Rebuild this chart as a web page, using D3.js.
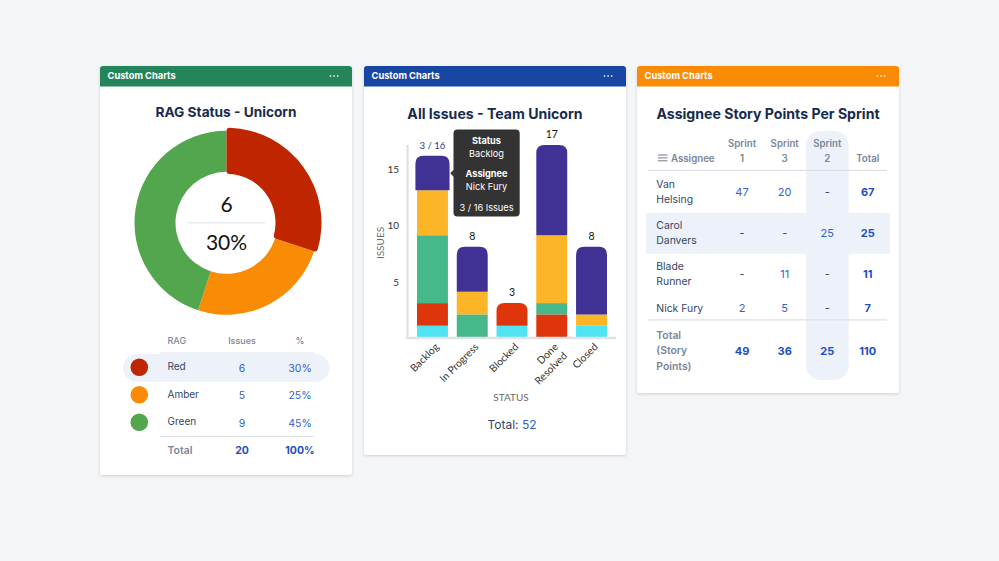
<!DOCTYPE html>
<html lang="en">
<head>
  <meta charset="UTF-8">
  <title>Custom Charts</title>
  <script src="https://d3js.org/d3.v7.min.js"></script>
  <style>
    html, body { margin: 0; background: #f4f5f7; overflow: hidden; }
    svg { display: block; font-family: Inter, sans-serif; }
    .chartfont { font-family: Lato, sans-serif; }
  </style>
</head>
<body>
<svg width="999" height="561"></svg>
<script>
// RAG donut + table
const ragNames = ["Red", "Amber", "Green"];
const ragIssues = [6, 5, 9];
const ragPercent = ["30%", "25%", "45%"];
const ragColors = ["#bf2600", "#fa8c05", "#52a64e"];

// stacked bars, bottom to top
const statuses = ["Backlog", "In Progress", "Blocked", "Done|Resolved", "Closed"];
const statusTotals = [16, 8, 3, 17, 8];
const cyanValues = [1, 0, 1, 0, 1];
const redValues = [2, 0, 2, 2, 0];
const greenValues = [6, 2, 0, 1, 0];
const yellowValues = [4, 2, 0, 6, 1];
const purpleValues = [3, 4, 0, 8, 6];
const yTicks = [5, 10, 15];

// story points table
const sprintHeaders = ["1", "3", "2"];
const assignees = [["Van", "Helsing"], ["Carol", "Danvers"], ["Blade", "Runner"], ["Nick Fury"]];
const pointRows = [
  ["47", "20", "-", "67"],
  ["-", "-", "25", "25"],
  ["-", "11", "-", "11"],
  ["2", "5", "-", "7"]
];
const pointTotals = ["49", "36", "25", "110"];

const navy = "#172b4d", slate = "#344563", grey = "#7a869a", blue = "#2f62d0", blueBold = "#1d4fc0";
const tint = "#ecf1fa", rule = "#dfe1e6";

const svg = d3.select("svg");
const defs = svg.append("defs");
const shadow = defs.append("filter").attr("id", "shadow")
  .attr("x", "-5%").attr("y", "-5%").attr("width", "110%").attr("height", "110%");
shadow.append("feDropShadow").attr("dx", 0).attr("dy", 1).attr("stdDeviation", 1.6)
  .attr("flood-color", "#091e42").attr("flood-opacity", 0.16);

function txt(parent, x, y, s, o = {}) {
  return parent.append("text").attr("x", x).attr("y", y).text(s)
    .attr("text-anchor", o.anchor || "start")
    .attr("font-size", o.size || 11)
    .attr("font-weight", o.weight || 400)
    .attr("fill", o.fill || slate);
}

function card(x, y, w, h, color, title, titleY, titleSize) {
  const g = svg.append("g");
  g.append("rect").attr("x", x).attr("y", y).attr("width", w).attr("height", h)
    .attr("rx", 3).attr("fill", "#fff").attr("filter", "url(#shadow)");
  g.append("path").attr("fill", color)
    .attr("d", `M${x},${y + 20.5}V${y + 3}q0,-3 3,-3H${x + w - 3}q3,0 3,3V${y + 20.5}Z`);
  txt(g, x + 7.5, y + 13.2, "Custom Charts", { size: 9.3, weight: 700, fill: "#fff" });
  [0, 1, 2].forEach(i => {
    g.append("circle").attr("cx", x + w - 21.5 + i * 3.6).attr("cy", y + 10).attr("r", 0.9)
      .attr("fill", "#fff").attr("opacity", 0.8);
  });
  txt(g, x + w / 2, titleY, title, { size: titleSize, weight: 700, fill: navy, anchor: "middle" });
  return g;
}

// ---- card 1
const c1 = card(100, 66, 252, 409, "#24855b", "RAG Status - Unicorn", 117, 13.7);
const cx = 226.5, cy = 222.8;
const pie = d3.pie().sort(null).value(d => d)(ragIssues);
const arc = d3.arc().innerRadius(51).outerRadius(92);
const arcHover = d3.arc().innerRadius(49).outerRadius(95).cornerRadius(3);
const donut = c1.append("g").attr("transform", `translate(${cx},${cy})`);
donut.selectAll("path").data(pie).join("path")
  .attr("d", (d, i) => i === 0 ? null : arc(d))
  .attr("fill", (d, i) => ragColors[i]);
donut.append("path").attr("d", arcHover(pie[0])).attr("fill", ragColors[0]);
txt(c1, cx, 212, ragIssues[0], { size: 21, anchor: "middle", fill: "#111" }).attr("class", "chartfont");
c1.append("line").attr("x1", 187.5).attr("x2", 265).attr("y1", cy).attr("y2", cy).attr("stroke", rule);
txt(c1, cx, 250, ragPercent[0], { size: 21, anchor: "middle", fill: "#111" }).attr("class", "chartfont");

const ragY = d3.scalePoint().domain(ragNames).range([367.5, 422.5]);
c1.append("rect").attr("x", 123).attr("y", 354).attr("width", 206.5).attr("height", 27.7)
  .attr("rx", 13.8).attr("fill", tint);
txt(c1, 167.5, 344, "RAG", { size: 9, weight: 500, fill: grey });
txt(c1, 242, 344, "Issues", { size: 9, weight: 500, fill: grey, anchor: "middle" });
txt(c1, 300, 344, "%", { size: 9, weight: 500, fill: grey, anchor: "middle" });
c1.append("line").attr("x1", 160).attr("x2", 314).attr("y1", 353).attr("y2", 353).attr("stroke", rule).attr("stroke-width", 1.2);
c1.append("line").attr("x1", 160).attr("x2", 314).attr("y1", 436.3).attr("y2", 436.3).attr("stroke", rule).attr("stroke-width", 1.2);
ragNames.forEach((n, i) => {
  const y = ragY(n);
  c1.append("circle").attr("cx", 139.3).attr("cy", y - 0.3).attr("r", 8.8).attr("fill", ragColors[i]);
  txt(c1, 167.5, y + 2.8, n, { size: 10 });
  txt(c1, 242, y + 4, ragIssues[i], { size: 10.5, anchor: "middle", fill: blue });
  txt(c1, 300, y + 4, ragPercent[i], { size: 10.5, anchor: "middle", fill: blue });
});
txt(c1, 167.5, 454, "Total", { size: 10.5, weight: 600, fill: grey });
txt(c1, 242, 454, d3.sum(ragIssues), { size: 10.5, weight: 700, fill: blueBold, anchor: "middle" });
txt(c1, 300, 454, "100%", { size: 10.5, weight: 700, fill: blueBold, anchor: "middle" });

// ---- card 2
const c2 = card(364, 66, 262, 389, "#1846a3", "All Issues - Team Unicorn", 118.5, 14.1);
const barColors = ["#50e3f1", "#de350b", "#47b88a", "#fbb526", "#403294"];
const seriesValues = [cyanValues, redValues, greenValues, yellowValues, purpleValues];
const rows = statuses.map((s, i) => {
  const row = { status: s };
  seriesValues.forEach((v, k) => { row[k] = v[i]; });
  return row;
});
const stacked = d3.stack().keys(d3.range(seriesValues.length))(rows);
const x = d3.scaleBand().domain(statuses).range([417, 607]).paddingInner(0.222);
const y = d3.scaleLinear().domain([0, 17]).range([337, 145]);

function roundTop(x0, x1, y0, y1, r) {
  return `M${x0},${y0}V${y1 + r}Q${x0},${y1} ${x0 + r},${y1}H${x1 - r}Q${x1},${y1} ${x1},${y1 + r}V${y0}Z`;
}
stacked.forEach((layer, k) => {
  c2.append("g").selectAll("path").data(layer.filter(d => d[1] > d[0])).join("path")
    .attr("fill", barColors[k])
    .attr("d", d => {
      const st = d.data.status;
      const isTop = d[1] === statusTotals[statuses.indexOf(st)];
      const hover = st === "Backlog" && isTop ? 1.6 : 0;
      const x0 = x(st) - hover, x1 = x(st) + x.bandwidth() + hover;
      if (isTop) return roundTop(x0, x1, y(d[0]), y(d[1]) - hover / 3, 8);
      return `M${x0},${y(d[0])}V${y(d[1])}H${x1}V${y(d[0])}Z`;
    });
});

c2.append("line").attr("x1", 407.5).attr("x2", 407.5).attr("y1", 145).attr("y2", 339).attr("stroke", rule).attr("stroke-width", 2.4);
c2.append("line").attr("x1", 406.5).attr("x2", 616).attr("y1", 338).attr("y2", 338).attr("stroke", rule).attr("stroke-width", 2.4);

const yAxis = c2.append("g").attr("class", "chartfont").attr("transform", "translate(399,1.5)")
  .call(d3.axisLeft(y).tickValues(yTicks).tickSize(0).tickPadding(0));
yAxis.select(".domain").remove();
yAxis.selectAll("text").attr("font-size", 10).attr("font-family", "Lato, sans-serif").attr("fill", "#333");

const xLabels = c2.append("g").attr("class", "chartfont");
statuses.forEach(s => {
  const bx = x(s) + x.bandwidth() / 2;
  const parts = s.split("|");
  parts.forEach((p, i) => {
    const dx = 7 + i * 9, dy = 347.5 + i * 9;
    txt(xLabels, 0, 0, p, { size: 10.3, anchor: "end", fill: "#333" })
      .attr("transform", `translate(${bx + dx},${dy}) rotate(-45)`);
  });
});

txt(c2, 0, 0, "ISSUES", { size: 10, anchor: "middle", fill: "#6b6b6b" })
  .attr("class", "chartfont")
  .attr("transform", "translate(383.5,243) rotate(-90)");
txt(c2, 511, 400.5, "STATUS", { size: 10, anchor: "middle", fill: "#6b6b6b" }).attr("class", "chartfont");

statuses.forEach((s, i) => {
  const hovered = s === "Backlog";
  txt(c2, x(s) + x.bandwidth() / 2, y(statusTotals[i]) - 7, hovered ? `${purpleValues[i]} / ${statusTotals[i]}` : statusTotals[i],
    { size: hovered ? 9.6 : 10.5, anchor: "middle", fill: hovered ? "#403294" : "#111" }).attr("class", "chartfont");
});

const totalLine = txt(c2, 512, 429, "Total: ", { size: 12, anchor: "middle", fill: slate });
totalLine.append("tspan").attr("fill", blue).text(d3.sum(statusTotals));

// tooltip
const tip = c2.append("g");
tip.append("rect").attr("x", 453.5).attr("y", 129.5).attr("width", 66.2).attr("height", 87).attr("rx", 4).attr("fill", "#333");
tip.append("path").attr("d", d3.line()([[453.8, 169.5], [450.3, 173.2], [453.8, 177]])).attr("fill", "#333");
const tipX = 486.5;
txt(tip, tipX, 143.8, "Status", { size: 9.2, weight: 700, fill: "#fff", anchor: "middle" });
txt(tip, tipX, 156.8, statuses[0], { size: 9.2, fill: "#fff", anchor: "middle" });
txt(tip, tipX, 177.3, "Assignee", { size: 9.2, weight: 700, fill: "#fff", anchor: "middle" });
txt(tip, tipX, 190, "Nick Fury", { size: 9.2, fill: "#fff", anchor: "middle" });
txt(tip, tipX, 210.5, `${purpleValues[0]} / ${statusTotals[0]} Issues`, { size: 9.2, fill: "#fff", anchor: "middle" });

// ---- card 3
const c3 = card(637, 66, 262, 327, "#fa8c05", "Assignee Story Points Per Sprint", 118.5, 14.1);
const colX = d3.scaleOrdinal().domain([0, 1, 2, 3]).range([742, 784.7, 827.3, 867.7]);
c3.append("rect").attr("x", 646).attr("y", 213).attr("width", 244).attr("height", 40.7).attr("fill", tint);
c3.append("rect").attr("x", 806).attr("y", 130.7).attr("width", 42.7).attr("height", 249.5).attr("rx", 15).attr("fill", tint);
c3.append("line").attr("x1", 648).attr("x2", 887).attr("y1", 170.3).attr("y2", 170.3).attr("stroke", rule).attr("stroke-width", 1.2);
c3.append("line").attr("x1", 648).attr("x2", 887).attr("y1", 319.8).attr("y2", 319.8).attr("stroke", rule).attr("stroke-width", 1.2);

[0, 1, 2].forEach(i => {
  c3.append("line").attr("x1", 658).attr("x2", 667.5).attr("y1", 155 + i * 2.9).attr("y2", 155 + i * 2.9)
    .attr("stroke", grey).attr("stroke-width", 1.1);
});
txt(c3, 671, 161.5, "Assignee", { size: 9.7, weight: 600, fill: grey });
sprintHeaders.forEach((h, i) => {
  txt(c3, colX(i), 146.5, "Sprint", { size: 9.7, weight: 600, fill: grey, anchor: "middle" });
  txt(c3, colX(i), 161.5, h, { size: 9.7, weight: 600, fill: grey, anchor: "middle" });
});
txt(c3, colX(3), 161.5, "Total", { size: 9.7, weight: 600, fill: grey, anchor: "middle" });

const rowMid = [192, 232.5, 274, 308];
assignees.forEach((names, r) => {
  names.forEach((n, l) => {
    const off = names.length === 2 ? (l === 0 ? -4 : 11) : 4;
    txt(c3, 656.3, rowMid[r] + off, n, { size: 10.4 });
  });
  pointRows[r].forEach((v, c) => {
    const dash = v === "-";
    txt(c3, colX(c), rowMid[r] + 4, v, {
      size: 11, anchor: "middle",
      fill: dash ? slate : (c === 3 ? blueBold : blue),
      weight: c === 3 ? 700 : 400
    });
  });
});
["Total", "(Story", "Points)"].forEach((t, i) => {
  txt(c3, 656.3, 338.5 + i * 15.8, t, { size: 10.4, weight: 600, fill: grey });
});
pointTotals.forEach((v, c) => {
  txt(c3, colX(c), 354.5, v, { size: 11, weight: 700, fill: blueBold, anchor: "middle" });
});
</script>
</body>
</html>
